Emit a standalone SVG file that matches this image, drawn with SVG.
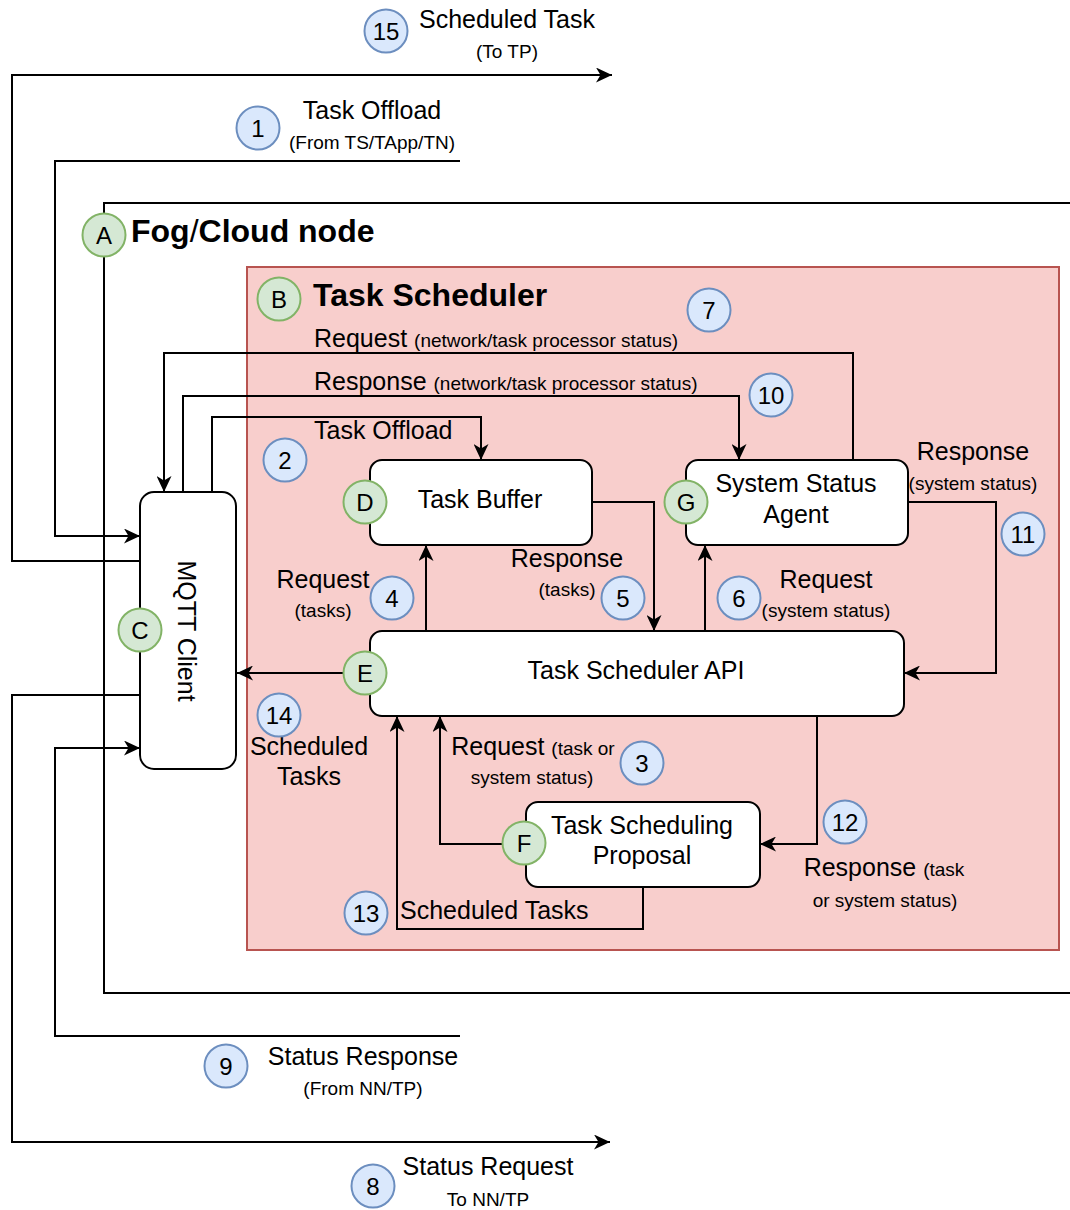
<svg xmlns="http://www.w3.org/2000/svg" width="1070" height="1210" viewBox="0 0 1070 1210">
  <style>
    text { font-family: "Liberation Sans", Arial, Helvetica, sans-serif; fill: #000; }
    .t { font-size: 25px; }
    .s { font-size: 19px; }
    .c { text-anchor: middle; }
    .h { font-size: 32px; font-weight: bold; }
    .n { font-size: 24px; text-anchor: middle; }
    .conn { fill: none; stroke: #000; stroke-width: 2; }
    .frame { fill: none; stroke: #000; stroke-width: 2; }
    .sched { fill: #f8cecc; stroke: #b85450; stroke-width: 2; }
    .box { fill: #fff; stroke: #000; stroke-width: 2; }
    .cb { fill: #dae8fc; stroke: #6c8ebf; stroke-width: 2; }
    .cg { fill: #d5e8d4; stroke: #82b366; stroke-width: 2; }
  </style>
  <defs>
    <marker id="arrow" markerUnits="userSpaceOnUse" viewBox="0 0 16 15" markerWidth="16" markerHeight="15" refX="16" refY="7.5" orient="auto">
      <path d="M0,0 L16,7.5 L0,15 L4.5,7.5 Z" fill="#000"/>
    </marker>
  </defs>

  <!-- Fog/Cloud node container (open to the right) -->
  <g id="fog-node">
    <path class="frame" d="M1075,203 H104 V993 H1075"/>
    <text class="h" x="131" y="242">Fog<tspan font-weight="normal">/</tspan>Cloud node</text>
  </g>

  <!-- Task Scheduler container -->
  <g id="task-scheduler">
    <rect class="sched" x="247" y="267" width="812" height="683"/>
    <text class="h" x="313" y="306">Task Scheduler</text>
  </g>

  <!-- Connectors -->
  <g id="connectors">
    <path class="conn" d="M140,561 H12 V75 H612" marker-end="url(#arrow)"/>
    <path class="conn" d="M460,161 H55 V536 H140" marker-end="url(#arrow)"/>
    <path class="conn" d="M140,695 H12 V1142 H610" marker-end="url(#arrow)"/>
    <path class="conn" d="M460,1036 H55 V748 H140" marker-end="url(#arrow)"/>
    <path class="conn" d="M853,460 V353 H164 V492" marker-end="url(#arrow)"/>
    <path class="conn" d="M183,492 V396 H739 V460" marker-end="url(#arrow)"/>
    <path class="conn" d="M212,492 V417 H481 V460" marker-end="url(#arrow)"/>
    <path class="conn" d="M426,631 V545" marker-end="url(#arrow)"/>
    <path class="conn" d="M592,502 H654 V631" marker-end="url(#arrow)"/>
    <path class="conn" d="M705,631 V545" marker-end="url(#arrow)"/>
    <path class="conn" d="M908,502 H996 V673 H904" marker-end="url(#arrow)"/>
    <path class="conn" d="M370,673 H237" marker-end="url(#arrow)"/>
    <path class="conn" d="M526,844 H440 V716" marker-end="url(#arrow)"/>
    <path class="conn" d="M643,887 V929 H397 V716" marker-end="url(#arrow)"/>
    <path class="conn" d="M817,716 V844 H760" marker-end="url(#arrow)"/>
  </g>

  <!-- Connector labels -->
  <g id="labels">
    <text class="t c" x="507" y="28">Scheduled Task</text>
    <text class="s c" x="507" y="58">(To TP)</text>
    <text class="t c" x="372" y="119">Task Offload</text>
    <text class="s c" x="372" y="149">(From TS/TApp/TN)</text>
    <text class="t" x="314" y="347">Request <tspan class="s">(network/task processor status)</tspan></text>
    <text class="t" x="314" y="390">Response <tspan class="s">(network/task processor status)</tspan></text>
    <text class="t" x="314" y="439">Task Offload</text>
    <text class="t c" x="973" y="460">Response</text>
    <text class="s c" x="973" y="490">(system status)</text>
    <text class="t c" x="323" y="588">Request</text>
    <text class="s c" x="323" y="617">(tasks)</text>
    <text class="t c" x="567" y="567">Response</text>
    <text class="s c" x="567" y="596">(tasks)</text>
    <text class="t c" x="826" y="588">Request</text>
    <text class="s c" x="826" y="617">(system status)</text>
    <text class="t c" x="309" y="755">Scheduled</text>
    <text class="t c" x="309" y="785">Tasks</text>
    <text class="t c" x="533" y="755">Request <tspan class="s">(task or</tspan></text>
    <text class="s c" x="532" y="784">system status)</text>
    <text class="t c" x="884" y="876">Response <tspan class="s">(task</tspan></text>
    <text class="s c" x="885" y="907">or system status)</text>
    <text class="t" x="400" y="919">Scheduled Tasks</text>
    <text class="t c" x="363" y="1065">Status Response</text>
    <text class="s c" x="363" y="1095">(From NN/TP)</text>
    <text class="t c" x="488" y="1175">Status Request</text>
    <text class="s c" x="488" y="1206">To NN/TP</text>
  </g>

  <!-- Components -->
  <g id="mqtt-client">
    <rect class="box" x="140" y="492" width="96" height="277" rx="14"/>
    <text class="t c" transform="translate(178,631) rotate(90)">MQTT Client</text>
  </g>
  <g id="task-buffer">
    <rect class="box" x="370" y="460" width="222" height="85" rx="12"/>
    <text class="t c" x="480" y="508">Task Buffer</text>
  </g>
  <g id="system-status-agent">
    <rect class="box" x="686" y="460" width="222" height="85" rx="12"/>
    <text class="t c" x="796" y="492">System Status</text>
    <text class="t c" x="796" y="523">Agent</text>
  </g>
  <g id="task-scheduler-api">
    <rect class="box" x="370" y="631" width="534" height="85" rx="12"/>
    <text class="t c" x="636" y="679">Task Scheduler API</text>
  </g>
  <g id="task-scheduling-proposal">
    <rect class="box" x="526" y="802" width="234" height="85" rx="12"/>
    <text class="t c" x="642" y="834">Task Scheduling</text>
    <text class="t c" x="642" y="864">Proposal</text>
  </g>

  <!-- Component letter badges -->
  <g id="badge-A"><circle class="cg" cx="104" cy="235" r="21.5"/><text class="n" x="104" y="243.5">A</text></g>
  <g id="badge-B"><circle class="cg" cx="279" cy="299" r="21.5"/><text class="n" x="279" y="307.5">B</text></g>
  <g id="badge-C"><circle class="cg" cx="140" cy="630" r="21.5"/><text class="n" x="140" y="638.5">C</text></g>
  <g id="badge-D"><circle class="cg" cx="365" cy="502" r="21.5"/><text class="n" x="365" y="510.5">D</text></g>
  <g id="badge-E"><circle class="cg" cx="365" cy="673" r="21.5"/><text class="n" x="365" y="681.5">E</text></g>
  <g id="badge-F"><circle class="cg" cx="524" cy="843" r="21.5"/><text class="n" x="524" y="851.5">F</text></g>
  <g id="badge-G"><circle class="cg" cx="686" cy="502" r="21.5"/><text class="n" x="686" y="510.5">G</text></g>

  <!-- Step number badges -->
  <g id="step-1"><circle class="cb" cx="258" cy="128" r="21.5"/><text class="n" x="258" y="136.5">1</text></g>
  <g id="step-2"><circle class="cb" cx="285" cy="460" r="21.5"/><text class="n" x="285" y="468.5">2</text></g>
  <g id="step-3"><circle class="cb" cx="642" cy="763" r="21.5"/><text class="n" x="642" y="771.5">3</text></g>
  <g id="step-4"><circle class="cb" cx="392" cy="598" r="21.5"/><text class="n" x="392" y="606.5">4</text></g>
  <g id="step-5"><circle class="cb" cx="623" cy="598" r="21.5"/><text class="n" x="623" y="606.5">5</text></g>
  <g id="step-6"><circle class="cb" cx="739" cy="598" r="21.5"/><text class="n" x="739" y="606.5">6</text></g>
  <g id="step-7"><circle class="cb" cx="709" cy="310" r="21.5"/><text class="n" x="709" y="318.5">7</text></g>
  <g id="step-8"><circle class="cb" cx="373" cy="1186" r="21.5"/><text class="n" x="373" y="1194.5">8</text></g>
  <g id="step-9"><circle class="cb" cx="226" cy="1066" r="21.5"/><text class="n" x="226" y="1074.5">9</text></g>
  <g id="step-10"><circle class="cb" cx="771" cy="395" r="21.5"/><text class="n" x="771" y="403.5">10</text></g>
  <g id="step-11"><circle class="cb" cx="1023" cy="534" r="21.5"/><text class="n" x="1023" y="542.5">11</text></g>
  <g id="step-12"><circle class="cb" cx="845" cy="822" r="21.5"/><text class="n" x="845" y="830.5">12</text></g>
  <g id="step-13"><circle class="cb" cx="366" cy="913" r="21.5"/><text class="n" x="366" y="921.5">13</text></g>
  <g id="step-14"><circle class="cb" cx="279" cy="715" r="21.5"/><text class="n" x="279" y="723.5">14</text></g>
  <g id="step-15"><circle class="cb" cx="386" cy="31" r="21.5"/><text class="n" x="386" y="39.5">15</text></g>
</svg>
